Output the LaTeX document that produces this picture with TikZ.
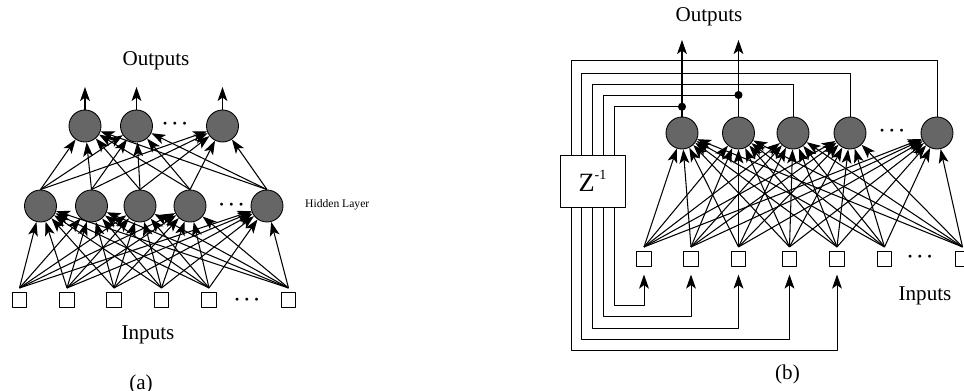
\documentclass[tikz,border=0pt]{standalone}
\usepackage{fontspec}
\setmainfont{Liberation Serif}
\usetikzlibrary{arrows.meta}
\begin{document}
\begin{tikzpicture}[>={Stealth[length=8pt,width=5.6pt,inset=2pt]}, x=0.02cm, y=-0.02cm, line join=round,
    font=\fontsize{12}{14}\selectfont,
    neuron/.style={circle,draw,fill=black!60,minimum size=0.64cm,inner sep=0pt,line width=0.5pt},
    unit/.style={rectangle,draw,fill=white,minimum size=0.285cm,inner sep=0pt,outer sep=2.8pt,line width=0.5pt},
    link/.style={->,line width=0.6pt},
    dots/.style={font=\boldmath\fontsize{10.5}{11}\selectfont}]
    \useasboundingbox (0,0) rectangle (964,391);
    % (a) feed-forward
    \foreach \n/\x in {1/19.5,2/67,3/114,4/161.5,5/209,6/288.5} \node[unit] (ia\n) at (\x,300) {};
    \foreach \n/\x in {1/40.5,2/91.5,3/140,4/190,5/267} \node[neuron] (ha\n) at (\x,206) {};
    \foreach \n/\x in {1/85,2/136.5,3/222.5} \node[neuron] (oa\n) at (\x,126) {};
    \node[dots] (da1) at (247,300) {$\cdots$};
    \node[dots] (da2) at (231.5,205) {$\cdots$};
    \node[dots] (da3) at (175,124) {$\cdots$};
    \foreach \i in {1,...,6} \foreach \j in {1,...,5} \draw[link] (ia\i.north) -- (ha\j);
    \foreach \i in {1,...,5} \foreach \j in {1,...,3} \draw[link] (ha\i.north) -- (oa\j);
    \foreach \n in {1,2,3} {
        \coordinate (ya\n) at (oa\n.north |- 0,87);
        \draw[link] (oa\n.north) -- (ya\n);
    }
    \node (outa) at (156,61) {Outputs};
    \node (ina) at (148,335) {Inputs};
    \node[anchor=west,font=\fontsize{6.6}{8}\selectfont] (hid) at (299,205) {Hidden Layer};
    \node (capa) at (141,384) {(a)};
    % (b) recurrent
    \foreach \n/\x in {1/644,2/691,3/738.5,4/789.5,5/837,6/884.5,7/962.5} \node[unit] (ib\n) at (\x,259) {};
    \foreach \n/\x in {1/682,2/738.5,3/793,4/850,5/937} \node[neuron] (ob\n) at (\x,133) {};
    \node[dots] (db1) at (920,257) {$\cdots$};
    \node[dots] (db2) at (892,131) {$\cdots$};
    \node[draw,minimum width=1.3cm,minimum height=1.04cm,inner sep=0pt,line width=0.5pt,font=\fontsize{15}{16}\selectfont]
        (zb) at (592.5,181) {Z\raisebox{1.05ex}{\fontsize{8}{8}\selectfont -1}};
    \foreach \i in {1,...,7} \foreach \j in {1,...,5} \draw[link] (ib\i.north) -- (ob\j);
    \foreach \n in {1,2} {
        \coordinate (yb\n) at (ob\n.north |- 0,40);
        \draw[link] (ob\n.north) -- (yb\n);
    }
    % delayed feedback
    \foreach \o/\x/\t/\b in {1/614.3/106.7/305.7, 2/603.3/95/316.7, 3/592.7/84.3/328.3, 4/581.7/73.3/339.3, 5/571/60/350} {
        \draw[line width=0.55pt] (zb.north -| \x,0) |- (ob\o.north |- 0,\t) -- (ob\o.north);
        \draw[link,line width=0.55pt,shorten >=2pt] (zb.south -| \x,0) |- (ib\o.south |- 0,\b) -- (ib\o.south);
    }
    \fill (ob1.north |- 0,106.7) circle (2.3pt);
    \fill (ob2.north |- 0,95) circle (2.3pt);
    \node (outb) at (709,17) {Outputs};
    \node (inb) at (925,296) {Inputs};
    \node (capb) at (787.5,374) {(b)};
\end{tikzpicture}
\end{document}
